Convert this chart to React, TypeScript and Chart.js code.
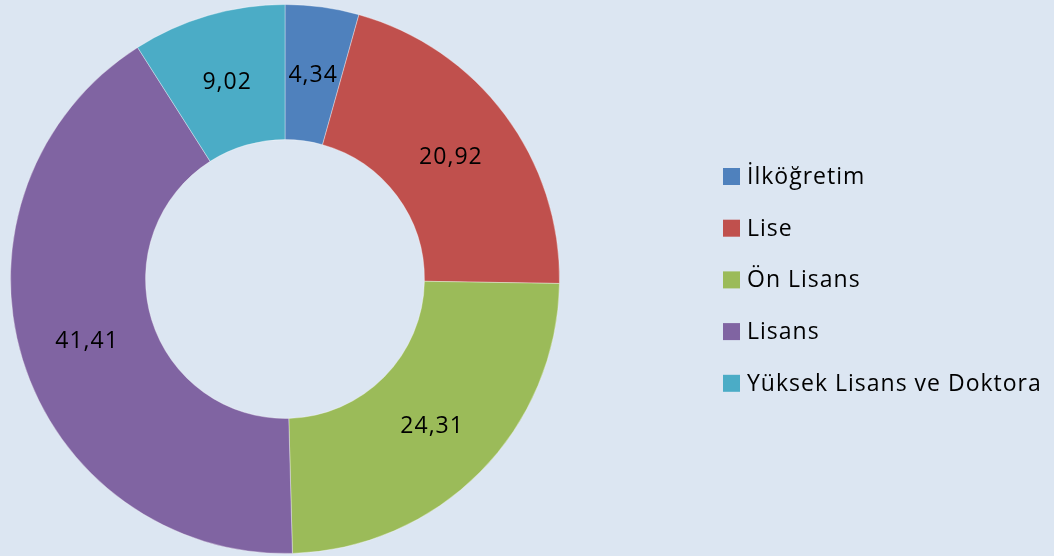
import React, { useEffect, useRef } from "react";
import { Chart, registerables } from "chart.js";

Chart.register(...registerables);

const categories = ["İlköğretim", "Lise", "Ön Lisans", "Lisans", "Yüksek Lisans ve Doktora"];
const values = [4.34, 20.92, 24.31, 41.41, 9.02];
const valueLabels = ["4,34", "20,92", "24,31", "41,41", "9,02"];
const colors = ["#4F81BD", "#C0504D", "#9BBB59", "#8064A2", "#4BACC6"];

const FONT = "'Open Sans', 'Liberation Sans', sans-serif";

const labelPlugin = {
  id: "valueLabels",
  afterDatasetsDraw(chart: any) {
    const ctx = chart.ctx;
    const meta = chart.getDatasetMeta(0);
    ctx.save();
    ctx.font = `23px ${FONT}`;
    (ctx as any).letterSpacing = "1px";
    ctx.fillStyle = "#000000";
    ctx.textAlign = "center";
    ctx.textBaseline = "middle";
    meta.data.forEach((arc: any, i: number) => {
      const p = arc.tooltipPosition();
      ctx.fillText(valueLabels[i], p.x, p.y + 2);
    });
    ctx.restore();
  },
};

const legendPlugin = {
  id: "sideLegend",
  afterDraw(chart: any) {
    const ctx = chart.ctx;
    ctx.save();
    ctx.font = `23px ${FONT}`;
    (ctx as any).letterSpacing = "1px";
    ctx.textBaseline = "middle";
    ctx.textAlign = "left";
    const x0 = 723;
    const y0 = 176.5;
    const step = 51.7;
    categories.forEach((c, i) => {
      const y = y0 + i * step;
      ctx.fillStyle = colors[i];
      ctx.fillRect(x0, y - 8.5, 17, 17);
      ctx.fillStyle = "#000000";
      ctx.fillText(c, x0 + 24, y + 1);
    });
    ctx.restore();
  },
};

const bgPlugin = {
  id: "bg",
  beforeDraw(chart: any) {
    const ctx = chart.ctx;
    ctx.save();
    ctx.fillStyle = "#DCE6F2";
    ctx.fillRect(0, 0, chart.width, chart.height);
    ctx.restore();
  },
};

export default function App() {
  const ref = useRef<HTMLCanvasElement>(null);
  useEffect(() => {
    document.body.style.margin = "0";
    const chart = new Chart(ref.current!, {
      type: "doughnut",
      data: {
        labels: categories,
        datasets: [
          {
            data: values,
            backgroundColor: colors,
            borderColor: "rgba(255,255,255,0.35)",
            borderWidth: 1,
          },
        ],
      },
      options: {
        animation: false,
        responsive: false,
        cutout: "50.8%",
        layout: { padding: { left: 0, right: 484, top: 4, bottom: 2 } },
        plugins: {
          legend: { display: false },
          tooltip: { enabled: false },
        },
      },
      plugins: [bgPlugin, labelPlugin, legendPlugin],
    });
    return () => chart.destroy();
  }, []);
  return (
    <div style={{ width: 1054, height: 556 }}>
      <canvas ref={ref} width={1054} height={556} style={{ display: "block" }} />
    </div>
  );
}
